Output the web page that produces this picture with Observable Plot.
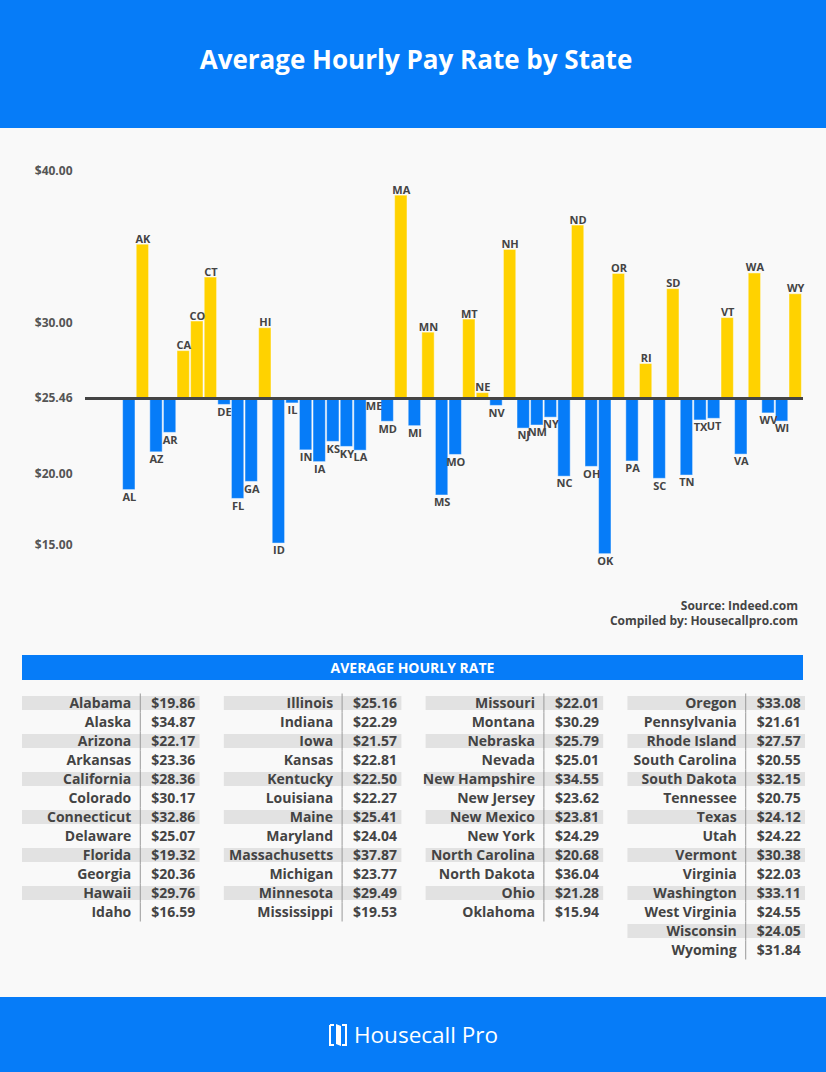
<!DOCTYPE html>
<html>
<head>
<meta charset="utf-8">
<script src="https://cdn.jsdelivr.net/npm/d3@7"></script>
<script src="https://cdn.jsdelivr.net/npm/@observablehq/plot@0.6"></script>
<style>
  html, body { margin: 0; padding: 0; }
  body { width: 826px; height: 1072px; position: relative; background: #f9f9f9; font-family: "Open Sans", sans-serif; overflow: hidden; }
  #header { position: absolute; left: 0; top: 0; width: 826px; height: 128px; background: #067cf8; }
  #title { position: absolute; left: 3px; width: 826px; top: 41px; text-align: center; color: #fff; font-weight: 700; font-size: 26px; line-height: 36px; }
  #chartrow { position: absolute; left: 0; top: 128px; width: 826px; height: 462px; display: flex; }
  #source { position: absolute; right: 28px; top: 598px; text-align: right; color: #444; font-weight: 700; font-size: 12px; line-height: 15px; }
  #band { position: absolute; left: 22px; top: 655px; width: 781px; height: 25px; background: #067cf8; color: #fff; font-weight: 700; font-size: 14px; line-height: 25px; text-align: center; }
  #table { position: absolute; left: 0; top: 690px; width: 826px; height: 280px; }
  #footer { position: absolute; left: 0; top: 997px; width: 826px; height: 75px; background: #067cf8; display: flex; align-items: center; justify-content: center; color: #fff; font-size: 22.5px; font-weight: 400; }
  #footer svg { margin-right: 6px; }
</style>
</head>
<body>
<div id="header"><div id="title">Average Hourly Pay Rate by State</div></div>
<div id="chartrow"><div id="axis"></div><div id="chart"></div></div>
<div id="source">Source: Indeed.com<br>Compiled by: Housecallpro.com</div>
<div id="band">AVERAGE HOURLY RATE</div>
<div id="table"></div>
<div id="footer">
  <svg width="20" height="26" viewBox="0 0 20 26"><path d="M2 3 H6 M2 3 V23 H6" stroke="#fff" stroke-width="2" fill="none"/><path d="M8 2 L13 4 V24 L8 22 Z" fill="#fff"/><path d="M14 3 H18 V23 H14" stroke="#fff" stroke-width="2" fill="none"/></svg>
  <span>Housecall Pro</span>
</div>
<script>
const abbr = ["AL","AK","AZ","AR","CA","CO","CT","DE","FL","GA","HI","ID","IL","IN","IA","KS","KY","LA","ME","MD","MA","MI","MN","MS","MO","MT","NE","NV","NH","NJ","NM","NY","NC","ND","OH","OK","OR","PA","RI","SC","SD","TN","TX","UT","VT","VA","WA","WV","WI","WY"];
const names = ["Alabama","Alaska","Arizona","Arkansas","California","Colorado","Connecticut","Delaware","Florida","Georgia","Hawaii","Idaho","Illinois","Indiana","Iowa","Kansas","Kentucky","Louisiana","Maine","Maryland","Massachusetts","Michigan","Minnesota","Mississippi","Missouri","Montana","Nebraska","Nevada","New Hampshire","New Jersey","New Mexico","New York","North Carolina","North Dakota","Ohio","Oklahoma","Oregon","Pennsylvania","Rhode Island","South Carolina","South Dakota","Tennessee","Texas","Utah","Vermont","Virginia","Washington","West Virginia","Wisconsin","Wyoming"];
const rates = [19.86,34.87,22.17,23.36,28.36,30.17,32.86,25.07,19.32,20.36,29.76,16.59,25.16,22.29,21.57,22.81,22.50,22.27,25.41,24.04,37.87,23.77,29.49,19.53,22.01,30.29,25.79,25.01,34.55,23.62,23.81,24.29,20.68,36.04,21.28,15.94,33.08,21.61,27.57,20.55,32.15,20.75,24.12,24.22,30.38,22.03,33.11,24.55,24.05,31.84];
const baseline = 25.46;
const yTicks = [15, 20, 25.46, 30, 40];
// the reference axis places its labels in equal steps (35 is skipped)
const yTickSteps = [0, 0.94, 1.94, 2.94, 4.94];
const columnSizes = [12, 12, 12, 14];

const BLUE = "#067cf8", YELLOW = "#ffd200", INK = "#444";

const data = abbr.map((a, i) => ({abbr: a, name: names[i], rate: rates[i]}));
const above = data.filter(d => d.rate >= baseline);
const below = data.filter(d => d.rate < baseline);

// y axis labels (stepped axis as drawn in the reference)
const stepOf = d3.scaleLinear().domain(yTicks).range(yTickSteps);
const axis = Plot.plot({
  width: 85, height: 462,
  marginLeft: 75, marginRight: 10, marginTop: 0, marginBottom: 0,
  style: {background: "transparent", fontFamily: "Open Sans"},
  y: {transform: stepOf, domain: [0, 4.94], range: [417, 43], label: null},
  marks: [
    Plot.axisY(yTicks, {tickSize: 0, tickPadding: 3, tickFormat: d3.format("$.2f"), fontWeight: "bold", fontSize: 12, fill: "#555", label: null})
  ]
});
document.getElementById("axis").appendChild(axis);

const chart = Plot.plot({
  width: 741, height: 462,
  marginLeft: 0, marginRight: 23, marginTop: 0, marginBottom: 0,
  style: {background: "transparent", fontFamily: "Open Sans"},
  x: {type: "band", domain: abbr, range: [37, 717], paddingInner: 0.09, paddingOuter: 0.045, round: false, axis: null},
  y: {domain: [12, 42], range: [490.1, -0.4], axis: null},
  marks: [
    Plot.barY(above, {x: "abbr", y1: () => baseline, y2: "rate", fill: YELLOW, stroke: "#fff", strokeOpacity: 0.45, strokeWidth: 1}),
    Plot.barY(below, {x: "abbr", y1: () => baseline, y2: "rate", fill: BLUE, stroke: "#fff", strokeOpacity: 0.45, strokeWidth: 1}),
    Plot.ruleY([baseline], {stroke: INK, strokeWidth: 3}),
    Plot.text(above, {x: "abbr", y: "rate", text: "abbr", lineAnchor: "bottom", dy: -2, fontWeight: "bold", fontSize: 11, fill: INK}),
    Plot.text(below, {x: "abbr", y: "rate", text: "abbr", lineAnchor: "top", dy: 3, fontWeight: "bold", fontSize: 11, fill: INK})
  ]
});
document.getElementById("chart").appendChild(chart);

// table
const rows = [];
let k = 0;
columnSizes.forEach((n, c) => {
  for (let r = 0; r < n; r++, k++) rows.push({col: c, row: r, name: names[k], rate: rates[k]});
});
const table = Plot.plot({
  width: 826, height: 280,
  margin: 0,
  style: {background: "transparent", fontFamily: "Open Sans"},
  x: {type: "band", domain: [0, 1, 2, 3], range: [22, 805], paddingInner: 0.12, paddingOuter: 0, round: false, axis: null},
  y: {type: "band", domain: d3.range(14), range: [3.5, 269.5], padding: 0, round: false, axis: null},
  marks: [
    Plot.cell(rows.filter(d => d.row % 2 === 0), {x: "col", y: "row", fill: "#e2e2e2", insetTop: 2.5, insetBottom: 2.5}),
    Plot.tickX(rows, {x: "col", y: "row", dx: 29, stroke: "#999", strokeWidth: 1}),
    Plot.text(rows, {x: "col", y: "row", text: "name", textAnchor: "end", dx: 20, fontWeight: "bold", fontSize: 14, fill: INK}),
    Plot.text(rows, {x: "col", y: "row", text: d => "$" + d.rate.toFixed(2), textAnchor: "start", dx: 40, fontWeight: "bold", fontSize: 14, fill: INK})
  ]
});
document.getElementById("table").appendChild(table);
</script>
</body>
</html>
